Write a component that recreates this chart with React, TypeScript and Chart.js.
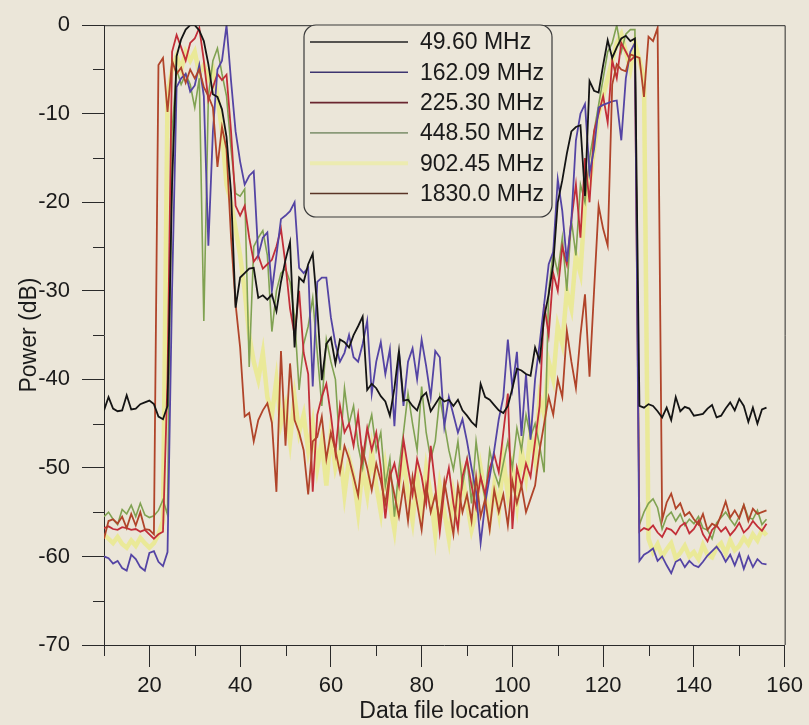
import React, { useEffect, useRef } from 'react';
import { Chart, registerables } from 'chart.js';

Chart.register(...registerables);

// x positions run from X_START in steps of one data-file location
const X_START = 10;
const X_TICKS = [20, 40, 60, 80, 100, 120, 140, 160];
const X_MINOR = [10, 30, 50, 70, 90, 110, 130, 150];
const Y_TICKS = [0, -10, -20, -30, -40, -50, -60, -70];
const Y_MINOR = [-5, -15, -25, -35, -45, -55, -65];

const LABELS = ['49.60 MHz', '162.09 MHz', '225.30 MHz', '448.50 MHz', '902.45 MHz', '1830.0 MHz'];

const S_049 = [
  -43.5, -42.0, -43.3, -43.6, -43.5, -41.8, -43.4, -43.3, -42.8, -42.6,
  -42.4, -42.8, -44.2, -44.5, -43.0, -18.0, -3.5, -1.6, -0.5, 0,
  0, -0.6, -1.8, -4.4, -7.8, -8.1, -9.5, -12.6, -18.9, -31.9,
  -28.5, -28.0, -27.5, -27.4, -30.8, -30.5, -31.0, -30.4, -32.3, -29.0,
  -26.5, -24.5, -36.4, -28.5, -29.0, -27.0, -25.8, -31.9, -40.1, -36.0,
  -35.3, -38.2, -35.5, -35.8, -36.4, -35.0, -34.0, -32.9, -41.2, -40.5,
  -41.0, -41.9, -42.5, -44.1, -41.0, -36.8, -42.4, -42.3, -43.0, -43.5,
  -42.0, -41.5, -43.6, -42.8, -42.0, -42.5, -42.3, -43.0, -42.3, -43.5,
  -44.1, -44.8, -45.3, -40.5, -42.0, -42.3, -42.9, -43.5, -43.8, -43.0,
  -41.0, -38.8, -39.0, -39.4, -39.6, -36.4, -37.9, -33.0, -30.4, -27.0,
  -20.0, -17.5, -14.5, -12.0, -11.5, -11.3, -19.3, -6.3, -7.4, -7.6,
  -4.5, -1.7, -3.7, -2.5, -1.5, -1.2, -1.8, -1.5, -43.0, -43.2,
  -42.8, -43.0, -43.6, -44.3, -43.2, -44.6, -42.0, -43.6, -43.1, -43.3,
  -44.1, -44.0, -43.9, -43.3, -42.9, -44.3, -44.1, -43.3, -42.6, -43.5,
  -42.2, -43.0, -44.8, -43.2, -45.0, -43.4, -43.2,
];

const S_162 = [
  -60.0, -60.2, -60.8, -60.5, -61.3, -61.6, -59.8, -60.3, -61.2, -61.6,
  -59.6, -59.4, -60.6, -61.1, -59.5, -30.0, -7.0, -6.0, -5.5, -7.5,
  -6.8, -4.5, -8.0, -24.9, -12.0, -5.0, -4.0, 0, -6.3, -12.0,
  -15.4, -18.0, -17.0, -16.5, -26.0, -24.0, -23.4, -30.0, -26.0, -21.9,
  -21.5, -21.0, -20.0, -27.4, -28.0, -27.4, -40.8, -29.0, -28.5, -28.5,
  -33.0, -36.0, -38.0, -37.0, -35.0, -37.5, -38.0, -36.0, -33.4, -41.6,
  -38.0, -35.8, -39.4, -36.6, -45.3, -36.8, -43.0, -38.0, -36.5, -40.0,
  -35.5, -38.5, -42.0, -36.8, -37.5, -45.3, -42.0, -44.0, -46.0, -44.5,
  -47.0, -50.0, -52.7, -58.5, -54.0, -51.0, -48.0, -44.5, -42.0, -35.5,
  -41.0, -36.9, -46.4, -39.4, -46.8, -40.0, -36.0, -31.5, -27.0, -25.6,
  -17.4, -21.0, -26.7, -22.0, -13.0, -10.0, -8.9, -16.7, -14.0, -9.3,
  -9.0, -8.8, -8.6, -8.5, -13.0, -6.0, -3.0, -2.0, -60.5, -59.8,
  -59.5, -59.1, -60.5, -60.0, -61.0, -61.9, -60.6, -60.3, -61.2, -60.5,
  -61.0, -61.2, -60.6, -59.9, -59.4, -58.9, -59.6, -60.6, -59.8, -61.0,
  -59.7, -61.4, -60.0, -61.2, -60.3, -60.8, -60.9,
];

const S_225 = [
  -56.8, -56.6, -56.9, -57.0, -56.7, -56.8, -57.0, -56.9, -57.2, -57.0,
  -57.5, -58.0, -57.5, -57.2, -40.0, -3.0, -1.1, -2.5, -4.0, -2.0,
  -1.5, -0.3, -4.0, -8.5, -7.0, -5.5, -6.2, -5.6, -12.0, -20.4,
  -21.5, -20.4, -24.0, -26.7, -26.0, -27.5, -27.0, -26.5, -25.0, -23.0,
  -27.0, -32.0, -35.0, -30.0, -37.0, -39.4, -52.7, -44.0, -42.0, -40.5,
  -44.0, -48.3, -43.0, -46.0, -45.0, -47.5, -44.0, -49.0, -45.5, -48.0,
  -46.0, -50.0, -55.7, -51.0, -49.5, -52.0, -46.8, -50.0, -53.0, -49.0,
  -51.0, -54.0, -47.5, -52.0, -57.2, -52.5, -50.0, -54.0, -56.9, -51.0,
  -49.0, -52.0, -54.5, -51.0, -53.0, -50.0, -48.5, -50.5, -46.0, -41.6,
  -56.9, -50.0, -52.0, -49.5, -51.0, -47.0, -43.0, -31.5, -35.0, -28.0,
  -30.0, -25.0, -27.0, -22.0, -18.0, -24.0, -15.0, -20.0, -12.0, -10.0,
  -8.0, -11.0, -4.0, -6.0, -2.0, -3.0, -4.0, -3.5, -57.2, -56.8,
  -57.0, -56.5, -57.3, -57.8, -56.8, -57.0, -57.5, -56.6, -56.2, -57.4,
  -56.9, -56.0, -57.5, -58.3, -57.0, -56.5, -57.2, -56.7, -57.6, -57.0,
  -56.2, -57.3, -56.8, -56.0, -56.6, -57.1, -56.3,
];

const S_448 = [
  -55.5, -55.0, -55.8, -56.4, -54.7, -55.2, -54.2, -55.5, -54.0, -55.3,
  -55.6, -55.4, -54.8, -53.6, -55.3, -12.0, -5.0, -6.7, -5.5, -6.7,
  -9.3, -6.0, -33.4, -8.0, -4.0, -2.6, -5.5, -8.0, -14.0, -19.0,
  -19.3, -18.5, -38.6, -25.0, -24.0, -23.2, -26.0, -34.6, -30.0, -28.0,
  -27.5, -29.0, -33.0, -41.2, -36.0, -34.0, -30.8, -37.0, -43.0, -35.5,
  -38.0, -40.0, -48.0, -41.0, -45.0, -43.0, -47.5, -50.0, -46.0, -44.0,
  -48.0, -46.0, -52.0, -49.0, -55.5, -50.0, -46.0, -41.6, -45.0, -48.0,
  -40.8, -46.0, -49.0, -47.0, -42.0, -45.0, -48.0, -50.2, -47.0, -52.0,
  -49.0, -54.0, -47.0, -51.0, -53.5, -48.0, -50.5, -52.0, -49.5, -47.0,
  -50.0, -45.5, -48.0, -44.0, -46.5, -45.0, -47.5, -50.5, -30.0, -25.6,
  -28.0, -24.0, -30.0, -22.0, -26.0, -18.0, -20.0, -15.0, -12.0, -9.0,
  -6.0, -3.0, -2.0, 0, -3.0, -1.0, -0.5, -0.5, -56.4, -55.0,
  -54.0, -53.5, -54.5, -56.9, -55.5, -55.0, -56.0, -55.2, -56.5, -55.8,
  -56.3, -55.5, -56.8, -57.0, -58.0, -56.2, -55.6, -55.0, -55.8, -56.5,
  -55.5, -54.2, -55.6, -55.8, -54.8, -56.4, -55.8,
];

const S_902 = [
  -57.5, -58.0, -58.5, -57.8, -58.6, -59.0, -58.2, -58.8, -57.9, -58.5,
  -59.0, -58.5, -57.5, -56.0, -8.0, -5.0, -3.5, -5.0, -3.0, -4.0,
  -3.0, -5.5, -4.5, -6.0, -5.0, -8.0, -12.0, -18.0, -20.0, -23.0,
  -26.0, -30.0, -35.0, -38.0, -40.0, -37.0, -42.0, -44.0, -40.0, -45.0,
  -43.0, -47.0, -42.0, -46.0, -44.0, -48.0, -45.0, -50.0, -47.0, -52.0,
  -46.0, -50.0, -48.0, -53.0, -49.0, -51.0, -55.0, -50.0, -53.0, -48.0,
  -52.0, -55.0, -50.0, -54.0, -57.0, -52.0, -49.0, -53.0, -56.0, -51.0,
  -55.0, -50.0, -53.0, -57.5, -52.0, -55.0, -58.0, -53.0, -56.0, -51.0,
  -54.0, -57.0, -55.0, -50.0, -53.0, -56.0, -52.0, -55.0, -49.0, -53.0,
  -50.0, -54.0, -48.0, -51.0, -46.0, -49.0, -42.0, -44.0, -38.0, -40.0,
  -34.0, -36.0, -30.0, -32.0, -26.0, -28.0, -20.0, -18.0, -14.0, -10.0,
  -8.0, -6.0, -4.0, -2.0, -1.0, -3.0, -5.0, -2.0, -4.0, -6.0,
  -58.0, -59.5, -58.6, -60.0, -59.2, -58.5, -60.2, -59.6, -58.8, -60.0,
  -59.5, -60.3, -58.7, -59.8, -60.1, -59.0, -58.5, -59.7, -58.2, -59.3,
  -58.8, -57.9, -58.6, -57.5, -58.2, -57.0, -57.6,
];

const S_1830 = [
  -58.0, -56.0, -55.8, -56.3, -55.5, -56.8, -55.2, -56.5, -55.0, -56.9,
  -57.0, -57.5, -4.5, -3.7, -9.8, -4.0, -5.5, -4.8, -6.5, -5.0,
  -6.0, -5.0, -7.0, -8.0, -9.3, -16.0, -11.5, -14.0, -24.0, -31.5,
  -36.4, -44.2, -43.8, -47.0, -44.6, -43.5, -42.7, -44.9, -52.7, -36.8,
  -47.5, -38.2, -44.6, -46.0, -48.0, -53.0, -47.0, -46.5, -44.2, -49.0,
  -46.0, -48.0, -50.5, -47.5, -49.0, -51.0, -53.1, -48.0, -50.0, -52.5,
  -49.5, -51.5, -54.0, -50.5, -53.0, -55.5, -52.0, -56.0, -51.0, -54.0,
  -57.0, -52.0, -55.0, -53.0, -56.0, -51.5, -54.5, -57.5, -52.0, -55.0,
  -53.0, -56.0, -51.0, -55.5, -53.5, -57.0, -52.5, -55.0, -53.0, -56.5,
  -51.5, -54.0, -52.0, -55.0, -53.5, -52.0, -48.0, -45.0, -42.0, -44.0,
  -40.0, -42.0, -34.5, -38.0, -41.0, -35.0, -30.4, -39.7, -30.0, -20.4,
  -23.0, -24.9, -6.7, -4.4, -5.0, -5.2, -3.3, -3.5, -3.7, -8.1,
  -1.3, -1.8, -0.3, -55.9, -53.9, -52.9, -54.6, -54.0, -55.4, -55.0,
  -55.8, -56.4, -55.2, -57.0, -56.3, -56.6, -55.3, -53.8, -55.6, -54.8,
  -55.7, -54.2, -56.0, -54.6, -55.2, -55.0, -54.8,
];

const SERIES = [S_049, S_162, S_225, S_448, S_902, S_1830];
const COLORS = ['#141414', '#5444a4', '#c22e38', '#80a252', 'rgba(234,234,112,0.62)', '#b0442a'];
const LEGEND_COLORS = ['#222222', '#3c3470', '#6a2630', '#8a9a78', '#ecebb0', '#5a3426'];
const WIDTHS = [1.8, 1.8, 1.8, 1.6, 4.5, 1.8];
const ORDERS = [0, 2, 3, 4, 6, 1];

const BG = '#ebe6d9';
const AXIS = '#2a2a2a';
const FONT_FAMILY = "'Liberation Sans', Arial, Helvetica, sans-serif";

const toPoints = (vals: number[]) => vals.map((y, i) => ({ x: X_START + i, y }));

const extrasPlugin = {
  id: 'extras',
  afterDraw(chart: any) {
    const { ctx, chartArea, scales } = chart;
    const xs = scales.x;
    const ys = scales.y;
    ctx.save();
    ctx.strokeStyle = AXIS;
    ctx.lineWidth = 1;
    // frame top and right
    ctx.beginPath();
    ctx.moveTo(chartArea.left, chartArea.top + 0.5);
    ctx.lineTo(chartArea.right + 0.5, chartArea.top + 0.5);
    ctx.lineTo(chartArea.right + 0.5, chartArea.bottom);
    ctx.stroke();
    // minor ticks
    ctx.beginPath();
    X_MINOR.forEach((v) => {
      const px = Math.round(xs.getPixelForValue(v)) + 0.5;
      ctx.moveTo(px, chartArea.bottom);
      ctx.lineTo(px, chartArea.bottom + 11);
    });
    Y_MINOR.forEach((v) => {
      const py = Math.round(ys.getPixelForValue(v)) + 0.5;
      ctx.moveTo(chartArea.left - 11, py);
      ctx.lineTo(chartArea.left, py);
    });
    ctx.stroke();

    // legend box
    const bx = 304, by = 25, bw = 248, bh = 192, r = 12;
    ctx.beginPath();
    ctx.moveTo(bx + r, by);
    ctx.lineTo(bx + bw - r, by);
    ctx.arcTo(bx + bw, by, bx + bw, by + r, r);
    ctx.lineTo(bx + bw, by + bh - r);
    ctx.arcTo(bx + bw, by + bh, bx + bw - r, by + bh, r);
    ctx.lineTo(bx + r, by + bh);
    ctx.arcTo(bx, by + bh, bx, by + bh - r, r);
    ctx.lineTo(bx, by + r);
    ctx.arcTo(bx, by, bx + r, by, r);
    ctx.closePath();
    ctx.fillStyle = BG;
    ctx.fill();
    ctx.strokeStyle = '#3a3a3a';
    ctx.lineWidth = 1.2;
    ctx.stroke();

    ctx.font = `23px ${FONT_FAMILY}`;
    ctx.textBaseline = 'middle';
    ctx.textAlign = 'left';
    chart.data.datasets.forEach((ds: any, i: number) => {
      const y = 42 + i * 30.3;
      ctx.beginPath();
      ctx.strokeStyle = LEGEND_COLORS[i];
      ctx.lineWidth = i === 4 ? 4 : 1.6;
      ctx.moveTo(310, y);
      ctx.lineTo(408, y);
      ctx.stroke();
      ctx.fillStyle = '#1a1a1a';
      ctx.fillText(ds.label, 420, y + 1);
    });
    ctx.restore();
  },
};

export default function App() {
  const ref = useRef<HTMLCanvasElement>(null);

  useEffect(() => {
    if (!ref.current) return;
    const tickFont = { family: FONT_FAMILY, size: 22 };
    const chart = new Chart(ref.current, {
      type: 'line',
      data: {
        datasets: SERIES.map((s, i) => ({
          label: LABELS[i],
          data: toPoints(s),
          borderColor: COLORS[i],
          backgroundColor: COLORS[i],
          borderWidth: WIDTHS[i],
          pointRadius: 0,
          tension: 0,
          fill: false,
          order: ORDERS[i],
        })),
      },
      options: {
        animation: false,
        responsive: false,
        devicePixelRatio: 1,
        layout: { padding: { top: 17, right: 23, left: 0, bottom: 0 } },
        plugins: { legend: { display: false }, tooltip: { enabled: false } },
        scales: {
          x: {
            type: 'linear',
            min: 10,
            max: 160,
            afterBuildTicks: (s: any) => {
              s.ticks = X_TICKS.map((v) => ({ value: v }));
            },
            afterFit: (s: any) => {
              s.height = 80;
            },
            ticks: {
              font: tickFont,
              color: '#1a1a1a',
              padding: 6,
              maxRotation: 0,
              autoSkip: false,
              callback: (v: any) => String(v),
            },
            grid: { drawOnChartArea: false, drawTicks: true, tickLength: 22, tickColor: AXIS, tickWidth: 1 },
            border: { display: true, color: AXIS, width: 1 },
            title: {
              display: true,
              text: 'Data file location',
              font: { family: FONT_FAMILY, size: 23 },
              color: '#1a1a1a',
              padding: { top: 0, bottom: 0 },
            },
          },
          y: {
            type: 'linear',
            min: -70,
            max: 0,
            afterBuildTicks: (s: any) => {
              s.ticks = Y_TICKS.map((v) => ({ value: v }));
            },
            afterFit: (s: any) => {
              s.width = 104;
            },
            ticks: {
              font: tickFont,
              color: '#1a1a1a',
              padding: 12,
              autoSkip: false,
              callback: (v: any) => String(v),
            },
            grid: { drawOnChartArea: false, drawTicks: true, tickLength: 22, tickColor: AXIS, tickWidth: 1 },
            border: { display: true, color: AXIS, width: 1 },
            title: {
              display: true,
              text: 'Power (dB)',
              font: { family: FONT_FAMILY, size: 23 },
              color: '#1a1a1a',
              padding: { top: 16, bottom: 0 },
            },
          },
        },
      },
      plugins: [extrasPlugin],
    } as any);
    return () => chart.destroy();
  }, []);

  return (
    <div style={{ position: 'fixed', left: 0, top: 0, width: 809, height: 725, background: BG }}>
      <canvas ref={ref} width={809} height={725} style={{ width: 809, height: 725, display: 'block' }} />
    </div>
  );
}
